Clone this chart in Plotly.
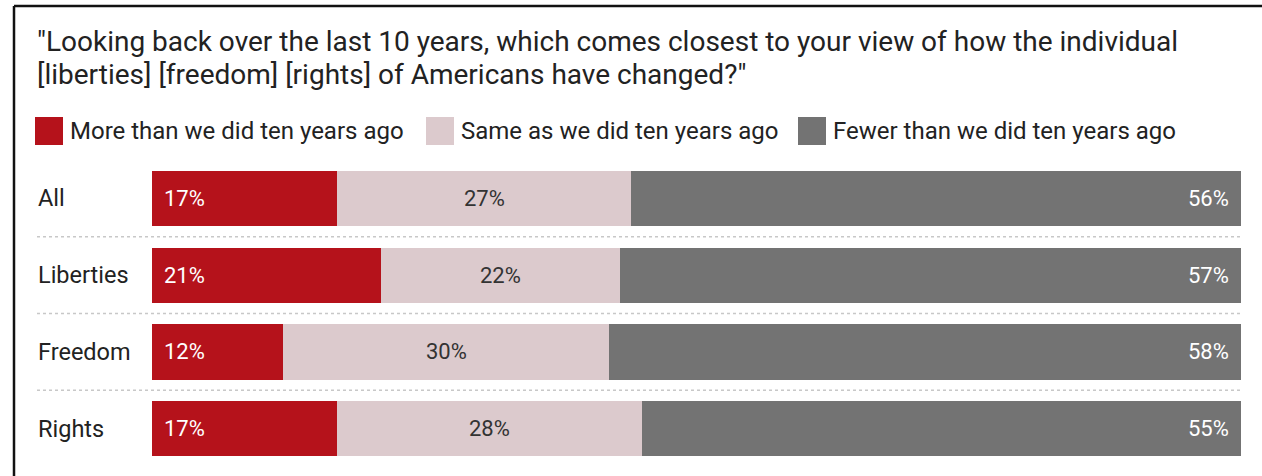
import plotly.graph_objects as go

# Survey results: share of respondents per answer, by question wording
categories = ["All", "Liberties", "Freedom", "Rights"]
series_names = [
    "More than we did ten years ago",
    "Same as we did ten years ago",
    "Fewer than we did ten years ago",
]
more = [17, 21, 12, 17]
same = [27, 22, 30, 28]
fewer = [56, 57, 58, 55]

title_lines = [
    '"Looking back over the last 10 years, which comes closest to your view of how the individual',
    '[liberties] [freedom] [rights] of Americans have changed?"',
]

colors = ["#b5121b", "#dccacd", "#737373"]
label_colors = ["#ffffff", "#333333", "#ffffff"]
FONT = "Roboto, Arial, sans-serif"

W, H = 1262, 476
L, R, T, B = 152, 21, 160, 9
PW, PH = W - L - R, H - T - B


def px_x(p):
    return (p - L) / PW


def px_y(p):
    return (H - B - p) / PH


fig = go.Figure()
series = [more, same, fewer]
for name, vals, col in zip(series_names, series, colors):
    fig.add_trace(go.Bar(
        y=categories, x=vals, name=name, orientation="h",
        marker=dict(color=col, line=dict(width=0)),
        width=0.72, showlegend=False, hoverinfo="skip",
    ))

annotations = []
shapes = []

# value labels: first segment left-aligned, middle centred, last right-aligned
for i, cat in enumerate(categories):
    start = 0
    for k, vals in enumerate(series):
        v = vals[i]
        if k == 0:
            x, anchor, shift = start, "left", 10
        elif k == 1:
            x, anchor, shift = start + v / 2, "center", 0
        else:
            x, anchor, shift = start + v, "right", -10
        annotations.append(dict(
            x=x, y=cat, xref="x", yref="y", text=f"{v}%", showarrow=False,
            xanchor=anchor, xshift=shift, yanchor="middle",
            font=dict(family=FONT, size=22, color=label_colors[k]),
        ))
        start += v
    # row label at the left edge
    annotations.append(dict(
        x=px_x(36), y=cat, xref="paper", yref="y", text=cat, showarrow=False,
        xanchor="left", yanchor="middle",
        font=dict(family=FONT, size=23.5, color="#222222"),
    ))

# dotted separators between rows
for j in range(len(categories) - 1):
    shapes.append(dict(
        type="line", xref="paper", yref="y", x0=px_x(37), x1=1, y0=j + 0.5, y1=j + 0.5,
        line=dict(color="#c8c8c8", width=1.5, dash="dot"),
    ))

# title
for n, line in enumerate(title_lines):
    annotations.append(dict(
        x=px_x(35), y=px_y(41 + 33 * n), xref="paper", yref="paper", text=line,
        showarrow=False, xanchor="left", yanchor="middle",
        font=dict(family=FONT, size=28, color="#222222"),
    ))

# legend swatches and labels
legend_x = [35, 426, 798]
for sx, name, col in zip(legend_x, series_names, colors):
    shapes.append(dict(
        type="rect", xref="paper", yref="paper",
        x0=px_x(sx), x1=px_x(sx + 28), y0=px_y(145), y1=px_y(117),
        fillcolor=col, line=dict(width=0),
    ))
    annotations.append(dict(
        x=px_x(sx + 33), y=px_y(131), xref="paper", yref="paper", text=name,
        showarrow=False, xanchor="left", yanchor="middle",
        font=dict(family=FONT, size=24, color="#222222"),
    ))

# frame lines along the top and left edges
shapes.append(dict(type="line", xref="paper", yref="paper",
                   x0=px_x(14), x1=px_x(W + 5), y0=px_y(6), y1=px_y(6),
                   line=dict(color="#111111", width=2.5)))
shapes.append(dict(type="line", xref="paper", yref="paper",
                   x0=px_x(14), x1=px_x(14), y0=px_y(6), y1=px_y(H + 5),
                   line=dict(color="#111111", width=2.5)))

fig.update_layout(
    width=W, height=H, barmode="stack",
    margin=dict(l=L, r=R, t=T, b=B, pad=0),
    paper_bgcolor="white", plot_bgcolor="white",
    xaxis=dict(range=[0, 100], visible=False, fixedrange=True),
    yaxis=dict(categoryorder="array", categoryarray=categories, autorange="reversed",
               visible=False, fixedrange=True),
    annotations=annotations, shapes=shapes,
    font=dict(family=FONT),
)

fig.write_html("out.html", config={"displayModeBar": False})
